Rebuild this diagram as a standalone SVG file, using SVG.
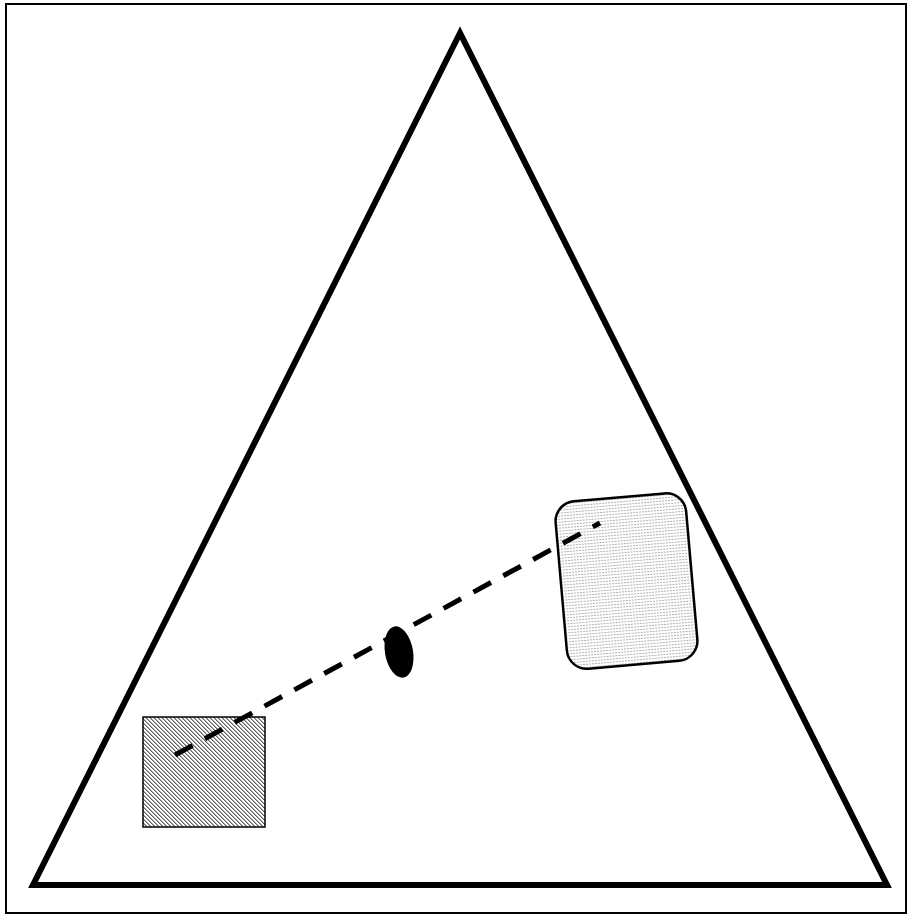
<svg xmlns="http://www.w3.org/2000/svg" width="909" height="916" viewBox="0 0 909 916">
<defs>
<pattern id="diag" width="4" height="4" patternUnits="userSpaceOnUse">
<rect width="4" height="4" fill="#ffffff"/>
<rect x="0" y="0" width="1" height="1" fill="#666"/>
<rect x="1" y="0" width="1" height="1" fill="#aaa"/>
<rect x="1" y="1" width="1" height="1" fill="#666"/>
<rect x="2" y="1" width="1" height="1" fill="#aaa"/>
<rect x="2" y="2" width="1" height="1" fill="#666"/>
<rect x="3" y="2" width="1" height="1" fill="#aaa"/>
<rect x="3" y="3" width="1" height="1" fill="#666"/>
<rect x="0" y="3" width="1" height="1" fill="#aaa"/>
</pattern>
<pattern id="dots" width="3" height="3" patternUnits="userSpaceOnUse">
<rect width="3" height="3" fill="#ffffff"/>
<rect x="0" y="0" width="2" height="1" fill="#b0b0b0"/>
</pattern>
<style>
.frame{fill:none;stroke:#000;stroke-width:2}
.tri{fill:#fff;stroke:#000;stroke-width:6;stroke-linejoin:miter}
.conn{fill:none;stroke:#000;stroke-width:5;stroke-dasharray:20 14}
</style>
</defs>
<rect width="909" height="916" fill="#fff"/>
<rect class="frame" x="6" y="4" width="900" height="909"/>
<g id="triangle">
<polygon class="tri" points="460,33 33,885 887,885"/>
</g>
<g id="square">
<rect x="143" y="717" width="122" height="110" fill="url(#diag)" stroke="#000" stroke-width="1.5"/>
</g>
<g id="roundrect">
<rect x="561" y="497" width="131" height="168" rx="20" ry="20" fill="url(#dots)" stroke="#000" stroke-width="2.5" transform="rotate(-5 627 581)"/>
</g>
<g id="connectors">
<line class="conn" x1="175" y1="755" x2="600" y2="523"/>
</g>
<g id="ellipse">
<ellipse cx="399" cy="652" rx="14" ry="26" fill="#000" transform="rotate(-10 399 652)"/>
</g>
</svg>
